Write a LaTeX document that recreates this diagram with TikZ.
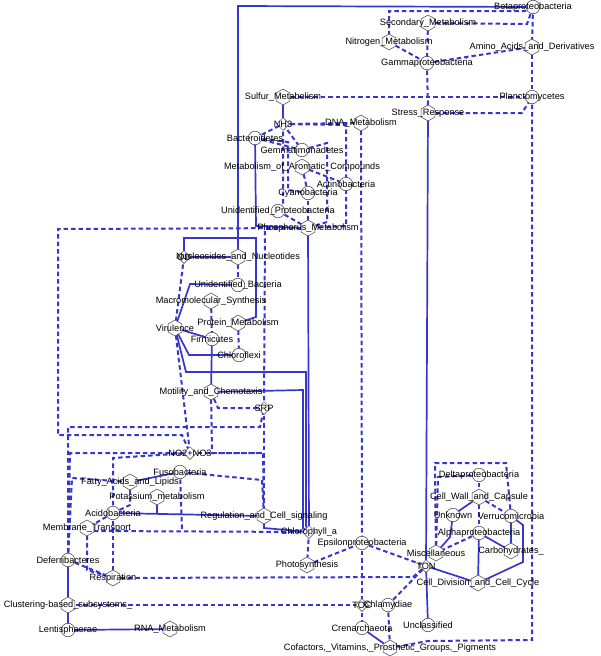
\documentclass[tikz,border=0pt]{standalone}
\usepackage{fontspec}
\setmainfont{Liberation Sans}
\usetikzlibrary{shapes.geometric}
\definecolor{edgecol}{RGB}{55,55,205}
\pgfdeclarelayer{bg}
\pgfsetlayers{bg,main}
\begin{document}
\begin{tikzpicture}[x=1pt,y=-1pt,
  lbl/.style={font=\fontsize{9.2}{10}\selectfont, text=black, inner sep=0pt},
  taxon/.style={circle, draw=black!75, line width=0.5pt, fill=white, minimum size=13.5pt, inner sep=0pt},
  func/.style={regular polygon, regular polygon sides=6, shape border rotate=30, draw=black!75, line width=0.5pt, fill=white, minimum size=16pt, inner sep=0pt},
  env/.style={diamond, aspect=1, draw=black!75, line width=0.5pt, fill=white, minimum width=13pt, minimum height=13pt, inner sep=0pt},
  posedge/.style={draw=edgecol, line width=1.7pt},
  negedge/.style={draw=edgecol, line width=2pt, dash pattern=on 4.5pt off 3pt}]
\useasboundingbox (0,0) rectangle (600,656);
% nodes
\node[taxon,label={[lbl]center:Betaproteobacteria}] (beta) at (533,7) {};
\node[func,label={[lbl]center:Secondary\_Metabolism}] (secmet) at (428,23) {};
\node[func,label={[lbl]center:Nitrogen\_Metabolism}] (nitro) at (389,42) {};
\node[func,label={[lbl]center:Amino\_Acids\_and\_Derivatives}] (amino) at (532,47) {};
\node[taxon,label={[lbl]center:Gammaproteobacteria}] (gamma) at (427,63) {};
\node[func,label={[lbl]center:Sulfur\_Metabolism}] (sulfur) at (283,97) {};
\node[taxon,label={[lbl]center:Planctomycetes}] (planc) at (532,97) {};
\node[func,label={[lbl]center:Stress\_Response}] (stress) at (428,113) {};
\node[env,label={[lbl]center:NH3}] (nh3) at (283,124) {};
\node[func,label={[lbl]center:DNA\_Metabolism}] (dna) at (361,123) {};
\node[taxon,label={[lbl]center:Bacteroidetes}] (bacter) at (255,138) {};
\node[taxon,label={[lbl]center:Gemmatimonadetes}] (gemma) at (302,150) {};
\node[func,label={[lbl]center:Metabolism\_of\_Aromatic\_Compounds}] (arom) at (302,167) {};
\node[taxon,label={[lbl]center:Actinobacteria}] (actino) at (346,184) {};
\node[taxon,label={[lbl]center:Cyanobacteria}] (cyano) at (308,193) {};
\node[taxon,label={[lbl]center:Unidentified\_Proteobacteria}] (uprot) at (278,211) {};
\node[func,label={[lbl]center:Phosphorus\_Metabolism}] (phos) at (308,228) {};
\node[env] (od) at (184,257) {};
\node[func,label={[lbl]center:Nucleosides\_and\_Nucleotides}] (nucl) at (238,257) {};
\node[lbl] (odlbl) at (od) {OD};
\node[taxon,label={[lbl]center:Unidentified\_Bacteria}] (ubac) at (238,285) {};
\node[func,label={[lbl]center:Macromolecular\_Synthesis}] (macro) at (211,301) {};
\node[func,label={[lbl]center:Protein\_Metabolism}] (prot) at (238,323) {};
\node[func,label={[lbl]center:Virulence}] (vir) at (175,328) {};
\node[taxon,label={[lbl]center:Firmicutes}] (firm) at (212,339) {};
\node[taxon,label={[lbl]center:Chloroflexi}] (chloro) at (239,355) {};
\node[func,label={[lbl]center:Motility\_and\_Chemotaxis}] (motil) at (211,392) {};
\node[env,label={[lbl]center:SRP}] (srp) at (264,408) {};
\node[env,label={[lbl]center:NO2+NO3}] (no) at (190,453) {};
\node[taxon,label={[lbl]center:Fusobacteria}] (fuso) at (180,472) {};
\node[func,label={[lbl]center:Fatty\_Acids\_and\_Lipids}] (fatty) at (130,482) {};
\node[func,label={[lbl]center:Potassium\_metabolism}] (potas) at (157,497) {};
\node[taxon,label={[lbl]center:Acidobacteria}] (acido) at (113,513) {};
\node[func,label={[lbl]center:Regulation\_and\_Cell\_signaling}] (regul) at (264,516) {};
\node[func,label={[lbl]center:Membrane\_Transport}] (membr) at (87,528) {};
\node[env,label={[lbl]center:Chlorophyll\_a}] (chla) at (309,532) {};
\node[taxon,label={[lbl]center:Epsilonproteobacteria}] (epsil) at (362,543) {};
\node[taxon,label={[lbl]center:Deferribacteres}] (defer) at (68,560) {};
\node[func,label={[lbl]center:Photosynthesis}] (photo) at (307,565) {};
\node[func,label={[lbl]center:Respiration}] (resp) at (113,578) {};
\node[func,label={[lbl]center:Miscellaneous}] (misc) at (436,553) {};
\node[env,label={[lbl]center:TON}] (ton) at (426,566) {};
\node[func,label={[lbl]center:Cell\_Division\_and\_Cell\_Cycle}] (celldiv) at (478,583) {};
\node[func,label={[lbl]center:Clustering-based\_subsystems\_}] (clust) at (68,605) {};
\node[env,label={[lbl]center:TOC}] (toc) at (362,605) {};
\node[taxon,label={[lbl]center:Chlamydiae}] (chlam) at (388,605) {};
\node[taxon,label={[lbl]center:Crenarchaeota}] (cren) at (362,628) {};
\node[taxon,label={[lbl]center:Unclassified}] (unclass) at (428,625) {};
\node[taxon,label={[lbl]center:Lentisphaerae}] (lenti) at (68,630) {};
\node[func,label={[lbl]center:RNA\_Metabolism}] (rna) at (170,629) {};
\node[func,label={[lbl]center:Cofactors,\_Vitamins,\_Prosthetic\_Groups,\_Pigments}] (cofac) at (390,648) {};
\node[taxon,label={[lbl]center:Deltaproteobacteria}] (delta) at (479,475) {};
\node[func,label={[lbl]center:Cell\_Wall\_and\_Capsule}] (cellwall) at (479,497) {};
\node[taxon,label={[lbl]center:Unknown}] (unknown) at (453,515) {};
\node[taxon,label={[lbl]center:Verrucomicrobia}] (verru) at (511,516) {};
\node[taxon,label={[lbl]center:Alphaproteobacteria}] (alpha) at (479,533) {};
\node[func,label={[lbl]center:Carbohydrates\_}] (carbo) at (511,551) {};
% edges
\begin{pgfonlayer}{bg}
% solid
\draw[posedge] (beta.center) -- (238,6) -- (nucl.center);
\draw[posedge] (sulfur.center) -- (nh3.center);
\draw[posedge] (bacter.center) -- (256,226) -- (phos.center);
\draw[posedge] (od.center) -- (nucl.center);
\draw[posedge] (od.center) -- (184,238) -- (256,238) -- (256,317) -- (prot.center);
\draw[posedge] (ubac.center) -- (190,284) -- (vir.center);
\draw[posedge] (vir.center) -- (firm.center);
\draw[posedge] (vir.center) -- (189,355) -- (chloro.center);
\draw[posedge] (vir.center) -- (186,372) -- (306,372) -- (306,526) -- (chla.center);
\draw[posedge] (firm.center) -- (motil.center);
\draw[posedge] (motil.center) -- (303,390) -- (303,528) -- (chla.center);
\draw[posedge] (phos.center) -- (chla.center);
\draw[posedge] (fatty.center) -- (fuso.center);
\draw[posedge] (acido.center) -- (regul.center);
\draw[posedge] (potas.center) -- (157,514);
\draw[posedge] (regul.center) -- (264,528) -- (chla.center);
\draw[posedge] (stress.center) -- (ton.center);
\draw[posedge] (ton.center) -- (unclass.center);
\draw[posedge] (ton.center) -- (celldiv.center);
\draw[posedge] (verru.center) -- (523,525) -- (523,562) -- (celldiv.center);
\draw[posedge] (cellwall.center) -- (unknown.center);
\draw[posedge] (unknown.center) -- (450,537) -- (misc.center);
\draw[posedge] (alpha.center) -- (carbo.center);
\draw[posedge] (verru.center) -- (carbo.center);
\draw[posedge] (alpha.center) -- (celldiv.center);
\draw[posedge] (cren.center) -- (cofac.center);
\draw[posedge] (defer.center) -- (clust.center);
\draw[posedge] (clust.center) -- (lenti.center);
\draw[posedge] (lenti.center) -- (rna.center);
% dashed
\draw[negedge] (beta.center) -- (525,11) -- (389,11) -- (nitro.center);
\draw[negedge] (secmet.center) -- (527,24) -- (beta.center);
\draw[negedge] (secmet.center) -- (gamma.center);
\draw[negedge] (nitro.center) -- (gamma.center);
\draw[negedge] (gamma.center) -- (amino.center);
\draw[negedge] (beta.center) -- (amino.center);
\draw[negedge] (amino.center) -- (planc.center);
\draw[negedge] (gamma.center) -- (stress.center);
\draw[negedge] (sulfur.center) -- (planc.center);
\draw[negedge] (stress.center) -- (522,113) -- (planc.center);
\draw[negedge] (planc.center) -- (532,640) -- (428,641) -- (cofac.center);
\draw[negedge] (nh3.center) -- (dna.center);
\draw[negedge] (nh3.center) -- (346,125) -- (346,226) -- (phos.center);
\draw[negedge] (dna.center) -- (epsil.center);
\draw[negedge] (bacter.center) -- (nh3.center);
\draw[negedge] (bacter.center) -- (gemma.center);
\draw[negedge] (nh3.center) -- (gemma.center);
\draw[negedge] (bacter.center) -- (288,142) -- (288,190) -- (cyano.center);
\draw[negedge] (gemma.center) -- (327,143) -- (327,222) -- (phos.center);
\draw[negedge] (arom.center) -- (actino.center);
\draw[negedge] (arom.center) -- (cyano.center);
\draw[negedge] (cyano.center) -- (phos.center);
\draw[negedge] (nh3.center) -- (283,205) -- (uprot.center);
\draw[negedge] (uprot.center) -- (phos.center);
\draw[negedge] (phos.center) -- (58,229) -- (58,435) -- (182,435) -- (no.center);
\draw[negedge] (phos.center) -- (265,229) -- (srp.center);
\draw[negedge] (od.center) -- (vir.center);
\draw[negedge] (nucl.center) -- (ubac.center);
\draw[negedge] (macro.center) -- (firm.center);
\draw[negedge] (prot.center) -- (chloro.center);
\draw[negedge] (vir.center) -- (no.center);
\draw[negedge] (motil.center) -- (218,408) -- (srp.center);
\draw[negedge] (motil.center) -- (212,453) -- (263,453) -- (regul.center);
\draw[negedge] (no.center) -- (263,453);
\draw[negedge] (srp.center) -- (regul.center);
\draw[negedge] (fuso.center) -- (262,480) -- (regul.center);
\draw[negedge] (defer.center) -- (68,427) -- (260,427) -- (srp.center);
\draw[negedge] (defer.center) -- (70,453) -- (no.center);
\draw[negedge] (no.center) -- (113,458) -- (acido.center);
\draw[negedge] (acido.center) -- (resp.center);
\draw[negedge] (defer.center) -- (72,478) -- (fatty.center);
\draw[negedge] (fatty.center) -- (130,505) -- (acido.center);
\draw[negedge] (acido.center) -- (membr.center);
\draw[negedge] (membr.center) -- (95,531) -- (chla.center);
\draw[negedge] (fuso.center) -- (182,531);
\draw[negedge] (membr.center) -- (87,570) -- (resp.center);
\draw[negedge] (defer.center) -- (resp.center);
\draw[negedge] (resp.center) -- (413,577) -- (ton.center);
\draw[negedge] (clust.center) -- (toc.center);
\draw[negedge] (chla.center) -- (photo.center);
\draw[negedge] (photo.center) -- (epsil.center);
\draw[negedge] (epsil.center) -- (ton.center);
\draw[negedge] (epsil.center) -- (toc.center);
\draw[negedge] (toc.center) -- (cren.center);
\draw[negedge] (chlam.center) -- (cofac.center);
\draw[negedge] (chlam.center) -- (ton.center);
\draw[negedge] (misc.center) -- (435,463) -- (506,463) -- (verru.center);
\draw[negedge] (delta.center) -- (438,477) -- (misc.center);
\draw[negedge] (delta.center) -- (cellwall.center);
\draw[negedge] (cellwall.center) -- (verru.center);
\draw[negedge] (cellwall.center) -- (alpha.center);
\draw[negedge] (alpha.center) -- (misc.center);
\end{pgfonlayer}
\end{tikzpicture}
\end{document}
